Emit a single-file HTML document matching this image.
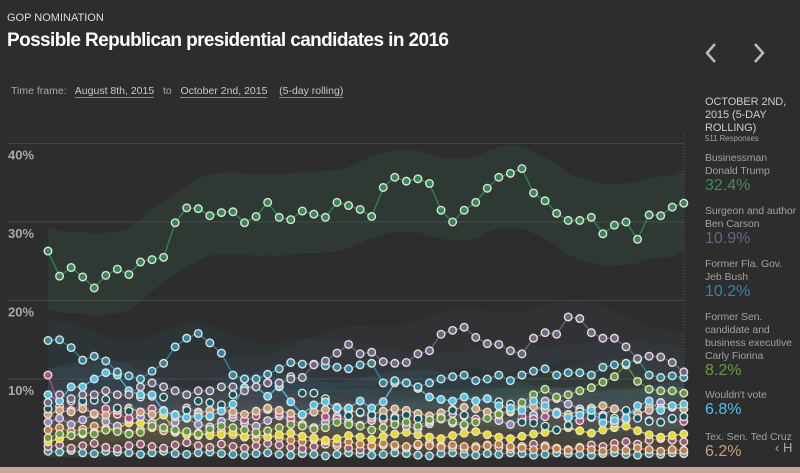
<!DOCTYPE html>
<html><head><meta charset="utf-8"><style>
html,body{margin:0;padding:0;background:#2d2d2d;width:800px;height:473px;overflow:hidden;font-family:"Liberation Sans",sans-serif}
.t{position:absolute;white-space:nowrap}
.lnk{color:#c8c8c8;border-bottom:1px solid #888}
.lab{position:absolute;left:705px;color:#a0a0a0;font-size:10.5px;line-height:13px;white-space:nowrap;letter-spacing:-0.1px}
.val{position:absolute;left:705px;font-size:16px}
</style></head><body>
<div class="t" style="left:7px;top:12px;font-size:11px;color:#ddd">GOP NOMINATION</div>
<div class="t" style="left:7px;top:30px;font-size:19px;font-weight:bold;color:#fff;letter-spacing:-0.6px">Possible Republican presidential candidates in 2016</div>
<div class="t" style="left:11px;top:85px;font-size:10.5px;color:#aaa">Time frame:&nbsp;&nbsp; <span class="lnk">August 8th, 2015</span>&nbsp;&nbsp; to&nbsp;&nbsp; <span class="lnk">October 2nd, 2015</span>&nbsp;&nbsp;&nbsp; <span class="lnk">(5-day rolling)</span></div>
<svg class="t" style="left:703px;top:42px" width="16" height="22"><polyline points="12,2 4,11 12,20" fill="none" stroke="#bbb" stroke-width="2.5"/></svg>
<svg class="t" style="left:751px;top:42px" width="16" height="22"><polyline points="4,2 12,11 4,20" fill="none" stroke="#bbb" stroke-width="2.5"/></svg>
<div class="lab" style="top:96px;color:#ccc;font-size:11px">OCTOBER 2ND,<br>2015 (5-DAY<br>ROLLING)</div>
<div class="lab" style="top:134px;font-size:8px;line-height:9px">511 Responses</div>
<div class="lab" style="top:152px">Businessman<br>Donald Trump</div>
<div class="val" style="top:177px;color:#3a8f5a">32.4%</div>
<div class="lab" style="top:205px">Surgeon and author<br>Ben Carson</div>
<div class="val" style="top:230px;color:#6a6580">10.9%</div>
<div class="lab" style="top:258px">Former Fla. Gov.<br>Jeb Bush</div>
<div class="val" style="top:283px;color:#2f87a8">10.2%</div>
<div class="lab" style="top:311px">Former Sen.<br>candidate and<br>business executive<br>Carly Fiorina</div>
<div class="val" style="top:362px;color:#6a9a40">8.2%</div>
<div class="lab" style="top:389px">Wouldn't vote</div>
<div class="val" style="top:401px;color:#4cc3ef">6.8%</div>
<div class="lab" style="top:431px">Tex. Sen. Ted Cruz</div>
<div class="val" style="top:443px;color:#c8a078">6.2%</div>
<div class="t" style="left:775px;top:440px;font-size:13px;color:#aaa">&#x2039; H</div>
<div style="position:absolute;left:0;top:467px;width:800px;height:6px;background:#c9a39c"></div>
<svg id="chart" width="800" height="467" style="position:absolute;left:0;top:0"></svg>
<script>
const trump=[26.3,23.1,24.2,23.0,21.6,23.2,24.0,23.3,24.9,25.2,25.5,29.9,31.8,31.7,30.8,31.2,31.3,29.9,30.7,32.5,30.6,30.3,31.4,31.0,30.6,32.5,32.1,31.6,30.7,34.4,35.7,35.2,35.5,34.9,31.5,30.0,31.5,32.5,34.3,35.7,36.2,36.8,33.7,32.7,31.1,30.2,30.2,30.6,28.5,29.6,30.0,27.8,30.9,30.8,31.9,32.4];
const carson=[7,8,7.5,8,8,8.5,8,8,9,9.5,9,8.5,8,8.5,8.5,9,9,8.5,9,9.5,9.5,10,10.2,11.8,12.3,13.3,14.4,13.2,13.4,12.2,12.0,12.1,13.2,13.6,15.7,16.2,16.6,15.3,14.5,14.4,13.6,13.2,15.2,15.9,15.7,17.9,17.7,15.9,15.2,15.2,14.1,12.6,12.9,12.8,12.1,10.9];
const bush=[14.9,15.0,14.0,12.4,12.9,12.3,10.9,10.4,10,11,12,14.1,15.2,15.8,14.6,13.3,10.5,10.0,10.0,10.6,11.3,12.1,11.9,11.9,11.7,11.5,11.3,11.8,12.0,9.5,9.8,9.5,9.0,9.5,10.0,10.3,10.5,9.8,10.0,10.5,9.8,10.5,11.0,11.3,10.5,10.8,10.8,10.5,11.5,11.8,12.0,12.5,10.5,10.2,10.4,10.2];
const fiorina=[2.5,3,2.8,3.2,3,3.5,3.3,3,3.2,4,3.8,3.5,3.3,3,3.6,4,3.8,3.5,3.2,3.4,3.8,4.2,4,3.6,3.8,4.5,4.2,4,3.5,3.8,4.2,4.5,4,4.8,5,4.6,4.2,4.5,5,5.5,6,7,8,8.7,7.7,8,8.5,8.9,9.6,10.3,11.8,9.7,8.7,8.5,8.5,8.2];
const wouldntVote=[8.0,7.2,9.0,9.0,10.0,10.8,10.5,8.5,8.0,8.0,5.9,5.4,5.1,5.2,5.3,5.9,6.8,8.9,9.0,7.8,9.1,7.1,5.5,6.7,7.1,6.3,6.3,7.2,6.3,7.1,9.5,9.5,8.8,7.7,7.4,7.2,7.7,7.2,7.5,6.6,6.3,6.0,7.2,6.6,5.6,5.1,5.4,6.0,4.4,4.7,5.0,6.6,7.2,6.0,6.6,6.8];
const rubio=[6.2,7.2,7.2,7.2,7.3,7.4,6.3,5.9,7.7,7.8,7.7,5.5,6.0,7.2,7.0,6.7,8.0,10.0,10.0,9.5,9.0,10.3,8.2,8.2,7.5,6.2,5.3,5.8,5.4,5.1,5.0,5.4,4.9,4.6,5.1,6.0,5.4,7.2,7.5,7.1,6.8,4.5,4.4,4.0,3.5,4.1,5.8,5.2,5.2,5.0,6.0,5.0,4.6,4.5,5.0,5.2];
const cruz=[5.5,6,5.8,6.2,5.6,5.4,6,6.3,5.8,5.5,6,5.2,5,5.6,6,6.2,5.8,5.5,5.9,6.3,6,5.6,5.4,5.8,6.1,6.4,6,5.7,5.5,5.9,6.2,6,5.6,5.3,5.7,6.1,6.4,6.2,5.8,5.6,5.9,6.3,6.5,6.1,5.8,5.5,5.9,6.3,6.6,6.2,5.9,5.6,6,6.3,6.4,6.2];
const kasich=[2.0,2.4,2.8,3,3.2,3.5,3.7,4.4,4.4,4.4,5.4,3.4,2.9,3.1,2.8,2.9,3.2,2.7,3,2.6,2.9,3.1,2.7,2.5,2.2,2.4,2.8,2.6,2.3,2.7,3,3.2,2.9,2.6,2.4,2.8,3.1,3.3,2.9,2.6,2.4,2.7,3,3.2,3.5,3.8,3.4,3.1,3.5,3.8,4.0,3.4,2.9,2.6,2.8,3.0];
const huckabee=[10.5,6.5,6,6.8,5.5,6.2,5.5,5,5.8,6.2,6,5.4,6.3,5.8,5.2,6,5.5,4.8,5.3,6.1,5.6,5,5.4,5.8,5.2,4.9,5.3,5.7,5.1,4.8,5.2,5.5,5,4.6,5.2,5.6,5.3,4.9,5.1,5.4,5.8,5.3,4.9,5.2,5.5,5,4.7,5.1,4.6,4.4,4.8,5.1,4.7,4.5,4.9,4.6];
const paul=[3.5,3.8,3.3,3.6,4,3.7,3.4,3.1,3.5,3.8,3.4,3.2,3,2.8,3.1,3.3,2.9,2.6,2.4,2.7,2.5,2.2,2,2.3,2.1,1.8,2,1.7,1.5,1.8,1.6,1.4,1.7,1.5,1.3,1.6,1.4,1.2,1.5,1.7,1.4,1.2,1.0,1.3,1.1,0.9,1.2,1.0,0.8,1.1,0.9,1.2,1.0,0.8,1.0,0.9];
const christie=[1.4,1.6,1.2,1.5,1.8,1.3,1.1,1.5,1.7,1.4,1.2,1.6,1.9,1.5,1.3,1.7,1.4,1.2,1.5,1.8,1.6,1.3,1.1,1.4,1.7,1.5,1.2,1.0,1.3,1.6,1.4,1.2,1.5,1.8,1.5,1.3,1.1,1.4,1.6,1.3,1.1,1.4,1.7,1.5,1.2,1.0,1.3,1.6,1.4,1.8,2.0,1.7,2.2,2.4,2.2,2.0];
const others=[0.8,0.7,0.9,0.6,0.5,0.8,0.7,0.6,0.4,0.6,0.8,0.5,0.4,0.6,0.7,0.5,0.4,0.3,0.5,0.6,0.4,0.3,0.5,0.4,0.2,0.4,0.6,0.5,0.3,0.4,0.6,0.5,0.3,0.2,0.5,0.6,0.4,0.3,0.5,0.4,0.6,0.5,0.3,0.4,0.6,0.5,0.4,0.3,0.5,0.6,0.4,0.3,0.5,0.4,0.6,0.5];
const lavender=[4.5,5,4.2,4.8,5.5,4.6,4,4.8,5.2,4.4,3.8,4.5,5,4.2,3.9,4.6,5.1,4.4,4,4.7,5.3,4.8,4.2,3.8,4.5,5.2,4.6,4.1,4.7,5.2,4.5,4,3.7,4.3,4.9,4.4,4,4.6,5.1,4.7,4.2,4.8,5.4,7.2,7.5,6.8,6.2,5.8,5.4,6.2,5.8,5.2,6.4,7.0,6.6,6.2];
const yTicks=[10,20,30,40];
const tickLabels=["10%","20%","30%","40%"];
const series=[
 ["others",others,"#3b93ad",1.2],["christie",christie,"#9a5a7c",1.5],["paul",paul,"#c47e4a",1.6],
 ["kasich",kasich,"#e6dc1e",2.2],["lavender",lavender,"#9088c6",2.6],["huckabee",huckabee,"#b44f92",2.6],
 ["cruz",cruz,"#c8a078",2.8],["rubio",rubio,"#0e5866",2.8],["fiorina",fiorina,"#6a9a40",3],
 ["wouldnt-vote",wouldntVote,"#4cc3ef",3],["bush",bush,"#2f87a8",3.5],["carson",carson,"#6d6688",3.8],["trump",trump,"#2f8a58",5.2]];
const NS="http://www.w3.org/2000/svg";
const svg=document.getElementById('chart');
const X0=48,DX=11.56,Y0=457.5,K=7.85;
function xs(i){return X0+i*DX;}
function ys(v){return Y0-v*K;}
function mk(t,a){const e=document.createElementNS(NS,t);for(const k in a)e.setAttribute(k,a[k]);return e;}
yTicks.forEach((v,i)=>{
 const l=mk('line',{x1:7,x2:684,y1:ys(v),y2:ys(v),stroke:'#464646','stroke-width':1});
 
 
 svg.appendChild(l);
 const t=mk('text',{x:8,y:ys(v)+16,fill:'#a8a8a8','font-size':13,'font-weight':'bold','font-family':'Liberation Sans, sans-serif'});
 t.textContent=tickLabels[i];
 
 
 svg.appendChild(t);
});
const cur=mk('line',{x1:684,x2:684,y1:135,y2:460,stroke:'#555','stroke-dasharray':'1,2'});


svg.appendChild(cur);
function smooth(a){return a.map((v,i)=>{let s=0,n=0;for(let j=i-3;j<=i+3;j++)if(j>=0&&j<a.length){s+=a[j];n++;}return s/n;});}
series.forEach(([nm,vals,col,m])=>{
 const sm=smooth(vals);
 let d='M'+xs(0)+','+ys(sm[0]+m);
 for(let i=1;i<sm.length;i++)d+=' L'+xs(i)+','+ys(sm[i]+m);
 for(let i=sm.length-1;i>=0;i--)d+=' L'+xs(i)+','+ys(Math.max(0,sm[i]-m));
 const p=mk('path',{d:d+'Z',fill:col,'fill-opacity':nm==='trump'?0.14:0.08});
 
 
 svg.appendChild(p);
});
series.forEach(([nm,vals,col])=>{
 const g=mk('g',{});
 
 
 const pl=mk('polyline',{points:vals.map((v,i)=>xs(i)+','+ys(v)).join(' '),fill:'none',stroke:col,'stroke-width':1.5,'stroke-opacity':0.85});
 
 
 g.appendChild(pl);
 vals.forEach((v,i)=>{
  const c=mk('circle',{cx:xs(i),cy:ys(v),r:3.8,fill:col,stroke:'#e6e0d2','stroke-width':1.4});
  
  
  g.appendChild(c);
 });
 svg.appendChild(g);
});
</script>
</body></html>
